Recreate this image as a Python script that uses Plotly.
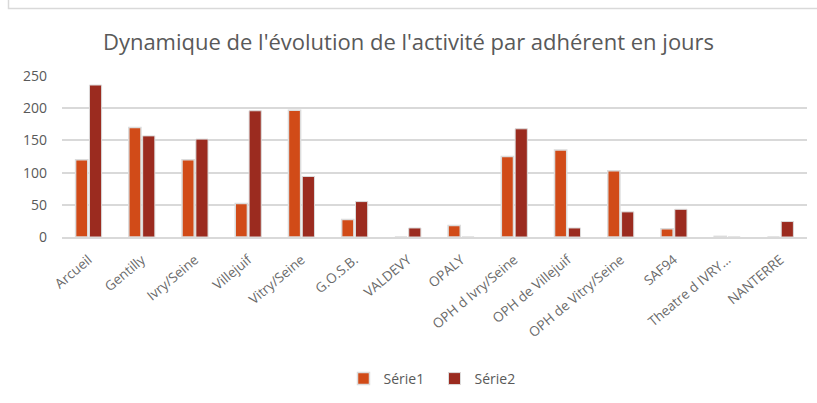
import plotly.graph_objects as go

categories = ["Arcueil", "Gentilly", "Ivry/Seine", "Villejuif", "Vitry/Seine", "G.O.S.B.",
              "VALDEVY", "OPALY", "OPH d Ivry/Seine", "OPH de Villejuif",
              "OPH de Vitry/Seine", "SAF94", "Theatre d IVRY…", "NANTERRE"]
serie1 = [120, 170, 120, 52, 197, 27, 0, 18, 125, 135, 103, 13, 1, 0]
serie2 = [236, 157, 152, 196, 94, 55, 14, 0, 168, 14, 39, 43, 0, 24]
yticks = [0, 50, 100, 150, 200, 250]

W, H = 817, 403
ml, mr, mt, mb = 62, 10, 76, 166

fig = go.Figure()
fig.add_trace(go.Bar(x=categories, y=serie1, name="Série1",
                     marker=dict(color="#D14B18", line=dict(color="#DCDCDC", width=1.5))))
fig.add_trace(go.Bar(x=categories, y=serie2, name="Série2",
                     marker=dict(color="#9B2B1F", line=dict(color="#DCDCDC", width=1))))

pw = W - ml - mr
ph = H - mt - mb
def px_x(x):
    return (x - ml) / pw
def px_y(y):
    return (H - mb - y) / ph

fig.add_shape(type="rect", xref="paper", yref="paper",
              x0=px_x(8.5), x1=px_x(830), y0=px_y(8.5), y1=px_y(-20),
              line=dict(color="#D9D9D9", width=1.5), fillcolor="rgba(0,0,0,0)", layer="below")

fig.update_layout(
    width=W, height=H,
    margin=dict(l=ml, r=mr, t=mt, b=mb, autoexpand=False),
    paper_bgcolor="white", plot_bgcolor="white",
    font=dict(family="Open Sans", color="#595959", size=13),
    title=dict(text="Dynamique de l'évolution de l'activité par adhérent en jours",
               x=0.5, xanchor="center", y=1 - 42 / H, yanchor="middle",
               font=dict(size=22, color="#595959", family="Open Sans")),
    barmode="group", bargap=0.48, bargroupgap=0.12,
    showlegend=True,
    legend=dict(orientation="h", x=0.5, xanchor="center", y=px_y(379), yanchor="middle",
                font=dict(size=14, color="#595959"), itemwidth=30, traceorder="normal",
                entrywidth=46, entrywidthmode="pixels"),
    xaxis=dict(tickangle=-40, showgrid=False, showline=True, linecolor="#D9D9D9",
               linewidth=1.5, ticks="", tickfont=dict(size=13.5, color="#6a6a6a"),
               ticklabelstandoff=8, automargin=False),
    yaxis=dict(range=[0, 250], tickvals=yticks, showgrid=True, gridcolor="#D9D9D9",
               gridwidth=1.5, zeroline=False, showline=False, ticks="",
               tickfont=dict(size=14, color="#595959"), ticklabelstandoff=14,
               automargin=False),
)

fig.write_html("out.html", config={"displayModeBar": False},
               post_script="document.body.style.margin='0';")
